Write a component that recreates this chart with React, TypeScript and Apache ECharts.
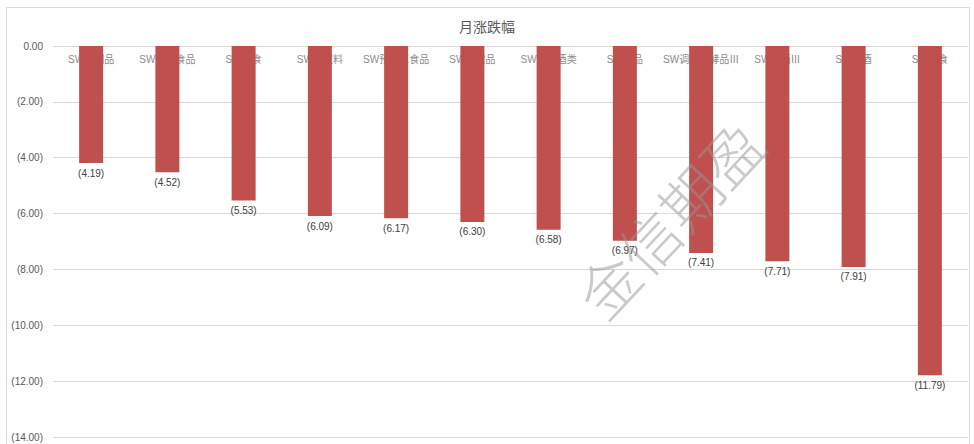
import React, { useEffect, useRef } from "react";
import * as echarts from "echarts";

const categories = [
  "SW肉制品",
  "SW烘焙食品",
  "SW零食",
  "SW软饮料",
  "SW预加工食品",
  "SW保健品",
  "SW其他酒类",
  "SW乳品",
  "SW调味发酵品Ⅲ",
  "SW白酒Ⅲ",
  "SW啤酒",
  "SW熟食",
];
const values = [-4.19, -4.52, -5.53, -6.09, -6.17, -6.3, -6.58, -6.97, -7.41, -7.71, -7.91, -11.79];
const title = "月涨跌幅";
const watermark = "金信期盈";

const FONT = "'Liberation Sans', 'Noto Sans CJK SC', sans-serif";

const fmt = (v: number) => (v < 0 ? `(${Math.abs(v).toFixed(2)})` : v.toFixed(2));

export default function App() {
  const ref = useRef<HTMLDivElement>(null);
  useEffect(() => {
    if (!ref.current) return;
    const chart = echarts.init(ref.current, undefined, { renderer: "svg" });
    chart.setOption({
      animation: false,
      backgroundColor: "#ffffff",
      title: {
        text: title,
        left: "center",
        top: 15,
        textStyle: { fontSize: 14, fontWeight: "normal", color: "#595959", fontFamily: FONT },
      },
      grid: { left: 53, right: 6, top: 46, bottom: 7 },
      xAxis: {
        type: "category",
        data: categories,
        position: "top",
        axisLine: { show: false },
        axisTick: { show: false },
        axisLabel: {
          inside: true,
          margin: 8,
          color: "#8c8c8c",
          fontSize: 10,
          fontFamily: FONT,
          interval: 0,
        },
        z: 0,
      },
      yAxis: {
        type: "value",
        min: -14,
        max: 0,
        interval: 2,
        axisLine: { show: false },
        axisTick: { show: false },
        splitLine: { lineStyle: { color: "#d9d9d9", width: 1 } },
        axisLabel: {
          formatter: (v: number) => fmt(v),
          color: "#595959",
          fontSize: 10,
          margin: 10,
          fontFamily: FONT,
        },
      },
      series: [
        {
          type: "bar",
          data: values,
          barWidth: 24,
          itemStyle: { color: "#C0504D" },
          z: 3,
          label: {
            show: true,
            position: "bottom",
            distance: 5,
            formatter: (p: any) => fmt(p.value),
            color: "#404040",
            fontSize: 10,
            fontFamily: FONT,
          },
        },
      ],
      graphic: [
        {
          type: "rect",
          shape: { x: 6.5, y: 7.5, width: 963, height: 460 },
          style: { fill: "none", stroke: "#d9d9d9", lineWidth: 1 },
          silent: true,
          z: -1,
        },
        {
          type: "text",
          x: 668,
          y: 218,
          rotation: (47 * Math.PI) / 180,
          style: {
            text: watermark,
            fontSize: 60,
            fontWeight: 200,
            fontFamily: "'Noto Sans CJK SC', sans-serif",
            fill: "rgba(150,150,150,0.5)",
            align: "center",
            verticalAlign: "middle",
            letterSpacing: 6,
          },
          silent: true,
          z: 100,
        },
      ],
    });
    return () => chart.dispose();
  }, []);
  return (
    <div
      ref={ref}
      style={{ position: "fixed", left: 0, top: 0, width: 974, height: 444 }}
    />
  );
}
